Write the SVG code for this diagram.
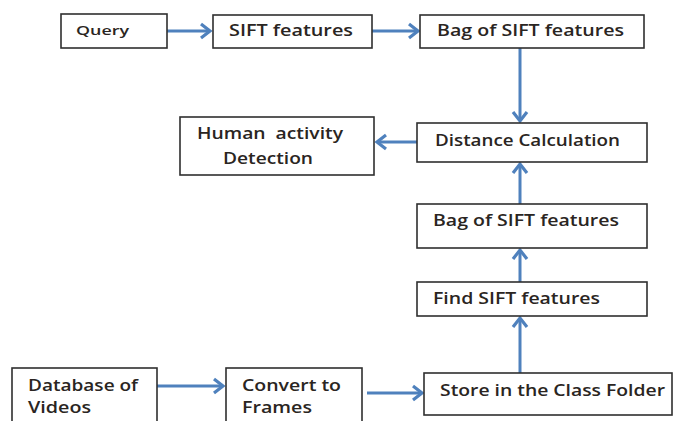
<svg xmlns="http://www.w3.org/2000/svg" width="673" height="421" viewBox="0 0 673 421">
<defs>
<marker id="ah" markerUnits="userSpaceOnUse" markerWidth="20" markerHeight="20" viewBox="-12 -10 14 20" refX="0" refY="0" orient="auto">
<path d="M-9,-7 L0,0 L-9,7" fill="none" stroke="#4F81BD" stroke-width="3.2" stroke-linejoin="miter"/>
</marker>
</defs>
<style>
.box{fill:#fff;stroke:#2f2f2f;stroke-width:1.6}
.t{font-family:"Open Sans","Liberation Sans",sans-serif;font-size:16px;font-weight:600;fill:#2a2522;white-space:pre}
.c{fill:none;stroke:#4F81BD;stroke-width:3;marker-end:url(#ah)}
</style>
<rect width="673" height="421" fill="#fff"/>
<g id="connectors">
<line class="c" x1="167" y1="31" x2="210" y2="31"/>
<line class="c" x1="372" y1="31" x2="418" y2="31"/>
<line class="c" x1="520" y1="48" x2="520" y2="121"/>
<line class="c" x1="417" y1="142" x2="377" y2="142"/>
<line class="c" x1="520" y1="204" x2="520" y2="164"/>
<line class="c" x1="520" y1="282" x2="520" y2="250"/>
<line class="c" x1="520" y1="373" x2="520" y2="318"/>
<line class="c" x1="157" y1="386" x2="223" y2="386"/>
<line class="c" x1="367" y1="393" x2="422" y2="393"/>
</g>
<g id="query">
<rect class="box" x="61" y="14" width="106" height="34"/>
<text class="t" x="76" y="35" style="font-size:12.5px" textLength="53" lengthAdjust="spacingAndGlyphs">Query</text>
</g>
<g id="sift">
<rect class="box" x="213" y="15" width="159" height="33"/>
<text class="t" x="229" y="36" textLength="124" lengthAdjust="spacingAndGlyphs">SIFT features</text>
</g>
<g id="bag1">
<rect class="box" x="420" y="15" width="224" height="33"/>
<text class="t" x="437" y="36" textLength="187" lengthAdjust="spacingAndGlyphs">Bag of SIFT features</text>
</g>
<g id="human">
<rect class="box" x="180" y="117" width="194" height="58"/>
<text class="t" x="197" y="139" xml:space="preserve" textLength="146" lengthAdjust="spacingAndGlyphs">Human  activity</text>
<text class="t" x="223" y="164" textLength="90" lengthAdjust="spacingAndGlyphs">Detection</text>
</g>
<g id="distance">
<rect class="box" x="417" y="123" width="230" height="39"/>
<text class="t" x="435" y="146" textLength="185" lengthAdjust="spacingAndGlyphs">Distance Calculation</text>
</g>
<g id="bag2">
<rect class="box" x="417" y="204" width="230" height="44"/>
<text class="t" x="433" y="226" textLength="186" lengthAdjust="spacingAndGlyphs">Bag of SIFT features</text>
</g>
<g id="find">
<rect class="box" x="417" y="282" width="230" height="34"/>
<text class="t" x="433" y="304" textLength="167" lengthAdjust="spacingAndGlyphs">Find SIFT features</text>
</g>
<g id="store">
<rect class="box" x="424" y="373" width="248" height="42"/>
<text class="t" x="440" y="396" textLength="225" lengthAdjust="spacingAndGlyphs">Store in the Class Folder</text>
</g>
<g id="database">
<rect class="box" x="12" y="368" width="145" height="70"/>
<text class="t" x="28" y="391" textLength="110" lengthAdjust="spacingAndGlyphs">Database of</text>
<text class="t" x="28" y="413" textLength="63" lengthAdjust="spacingAndGlyphs">Videos</text>
</g>
<g id="convert">
<rect class="box" x="226" y="368" width="136" height="70"/>
<text class="t" x="242" y="391" textLength="99" lengthAdjust="spacingAndGlyphs">Convert to</text>
<text class="t" x="242" y="413" textLength="70" lengthAdjust="spacingAndGlyphs">Frames</text>
</g>
</svg>
